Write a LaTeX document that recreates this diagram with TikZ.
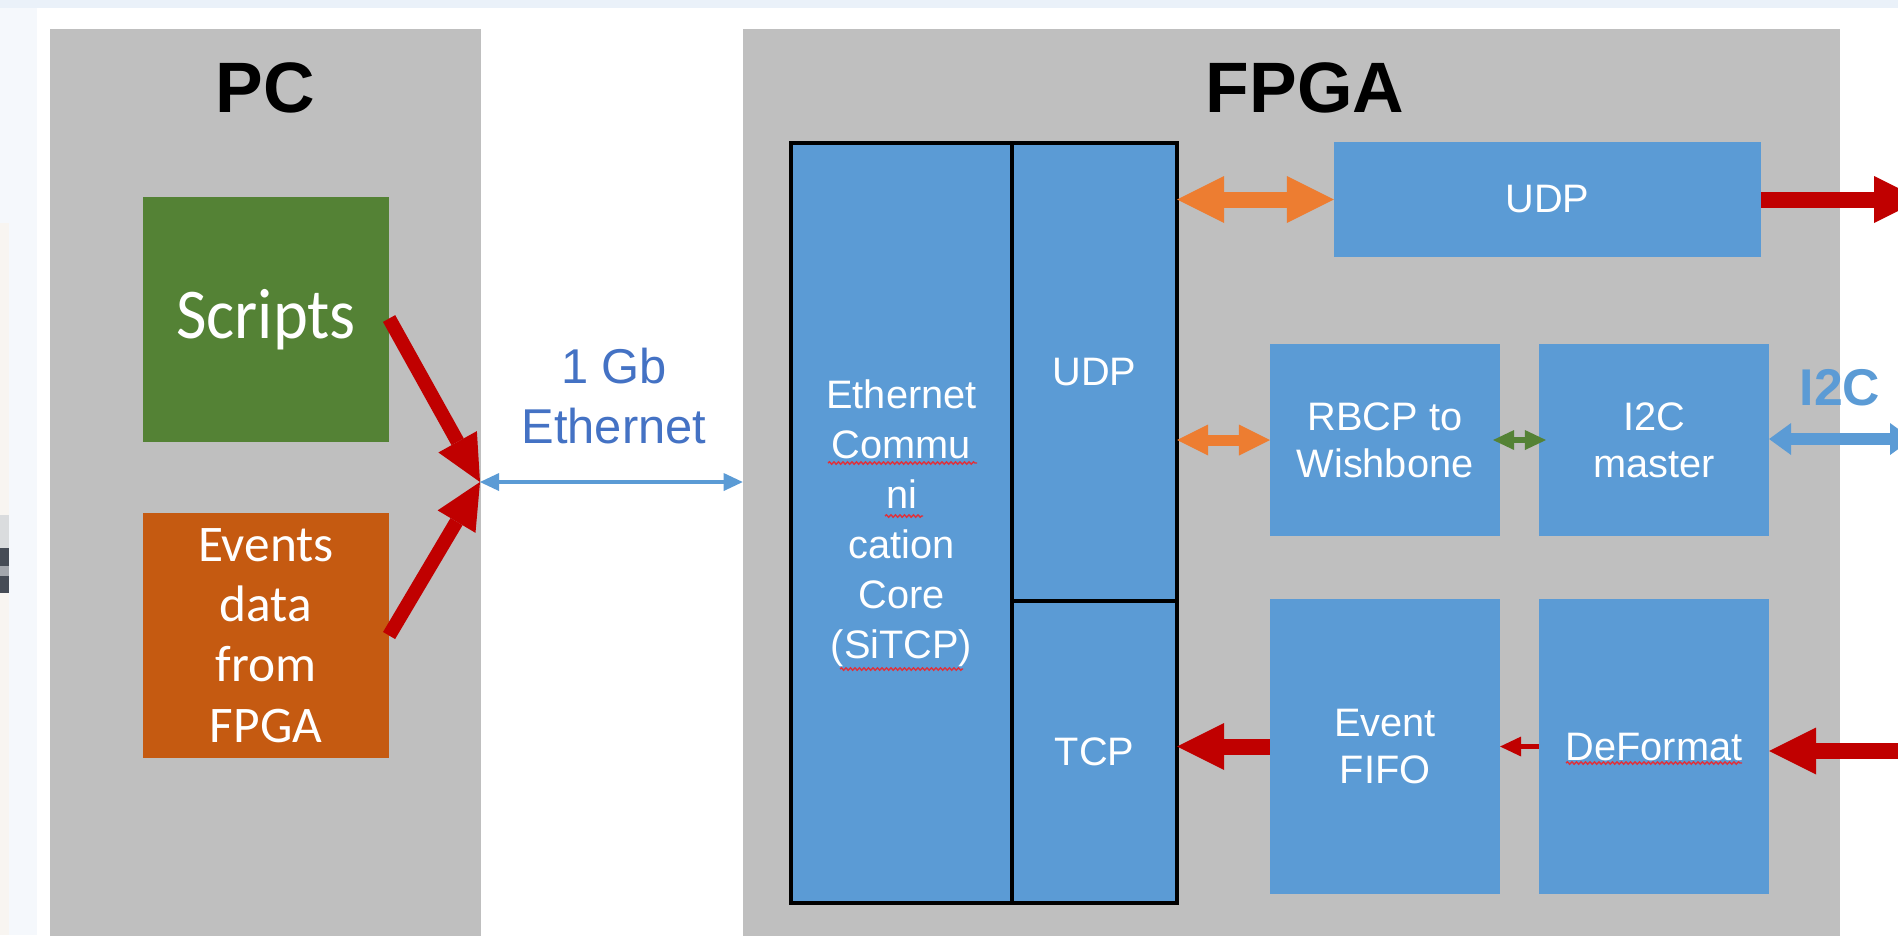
\documentclass[tikz,border=0pt]{standalone}
\usepackage{fontspec}
\setmainfont{Liberation Sans}
\newfontfamily\lightfont{Carlito}
\newfontfamily\narrowlightfont[FakeStretch=0.93]{Carlito}
\usetikzlibrary{arrows.meta,decorations.pathmorphing}

\definecolor{panelgray}{HTML}{BFBFBF}
\definecolor{boxblue}{HTML}{5B9BD5}
\definecolor{scriptgreen}{HTML}{548235}
\definecolor{eventorange}{HTML}{C55A11}
\definecolor{linkorange}{HTML}{ED7D31}
\definecolor{datared}{HTML}{C00000}
\definecolor{labelblue}{HTML}{4472C4}
\definecolor{topband}{HTML}{EAF1F9}
\definecolor{sideband}{HTML}{F5F8FC}
\definecolor{photobeige}{HTML}{F8F5F1}
\definecolor{photodark}{HTML}{464C56}
\definecolor{photomid}{HTML}{A3A7AD}
\definecolor{spellred}{HTML}{E0303A}

\begin{document}
\begin{tikzpicture}[x=0.01cm,y=-0.01cm,
  panel/.style={fill=panelgray,inner sep=0pt,outer sep=0pt},
  paneltitle/.style={font=\bfseries\fontsize{20.3}{24}\selectfont,inner sep=0pt},
  blk/.style={fill=boxblue,text=white,inner sep=0pt,outer sep=0pt,align=center,
    font=\fontsize{11.3}{13.4}\selectfont},
  corebox/.style={blk,draw=black,line width=1pt,font=\fontsize{11.3}{14.2}\selectfont},
  pcbox/.style={inner sep=0pt,outer sep=0pt,text=white,align=center,
    minimum width=2.46cm,minimum height=2.45cm},
  fatred/.style={draw=datared,line width=0.16cm,
    -{Triangle[length=0.47cm,width=0.47cm,line width=0pt]}},
  slantred/.style={draw=datared,line width=0.14cm,
    -{Triangle[length=0.46cm,width=0.44cm,line width=0pt]}},
  thinred/.style={draw=datared,line width=0.05cm,
    -{Triangle[length=0.21cm,width=0.20cm,line width=0pt]}},
  bigorange/.style={draw=linkorange,line width=0.16cm,
    {Triangle[length=0.47cm,width=0.47cm,line width=0pt]}-{Triangle[length=0.47cm,width=0.47cm,line width=0pt]}},
  smallorange/.style={draw=linkorange,line width=0.11cm,
    {Triangle[length=0.31cm,width=0.31cm,line width=0pt]}-{Triangle[length=0.31cm,width=0.31cm,line width=0pt]}},
  greenlink/.style={draw=scriptgreen,line width=0.06cm,
    {Triangle[length=0.21cm,width=0.20cm,line width=0pt]}-{Triangle[length=0.21cm,width=0.20cm,line width=0pt]}},
  i2clink/.style={draw=boxblue,line width=0.12cm,
    {Triangle[length=0.22cm,width=0.32cm,line width=0pt]}-{Triangle[length=0.22cm,width=0.32cm,line width=0pt]}},
  ethlink/.style={draw=boxblue,line width=0.04cm,
    {Triangle[length=0.19cm,width=0.18cm,line width=0pt]}-{Triangle[length=0.19cm,width=0.18cm,line width=0pt]}},
  squiggle/.style={draw=spellred,line width=0.4pt,decorate,
    decoration={snake,segment length=0.045cm,amplitude=0.012cm}}
]
\useasboundingbox (0,0) rectangle (1898,935);
\clip (0,0) rectangle (1898,935);

% page background, window edges
\fill[white] (0,0) rectangle (1898,935);
\fill[topband] (0,0) rectangle (1898,8);
\fill[sideband] (0,8) rectangle (37,935);
\fill[photobeige] (0,223) rectangle (9,935);
\fill[photomid!40] (0,515) rectangle (9,548);
\fill[photodark] (0,548) rectangle (9,566);
\fill[photomid] (0,566) rectangle (9,576);
\fill[photodark] (0,576) rectangle (9,593);

% the two panels
\node[panel,minimum width=4.31cm,minimum height=9.16cm] (pc) at (265.5,487) {};
\node[paneltitle] (pctitle) at (265,88) {PC};
\node[panel,minimum width=10.97cm,minimum height=9.16cm] (fpga) at (1291.5,487) {};
\node[paneltitle] (fpgatitle) at (1305,88) {FPGA};

% PC side
\node[pcbox,fill=scriptgreen,font=\narrowlightfont\fontsize{20.3}{24}\selectfont] (scripts) at (266,319.5) {Scripts};
\node[pcbox,fill=eventorange,font=\lightfont\fontsize{14.6}{17.1}\selectfont] (events) at (266,635.5) {Events\\data\\from\\FPGA};
\coordinate (hub) at (480,482);

% Ethernet link label
\node[text=labelblue,align=center,inner sep=0pt,font=\fontsize{13.9}{17.1}\selectfont] (ethlabel) at (614,396) {1 Gb\\Ethernet};

% SiTCP core
\node[corebox,minimum width=2.21cm,minimum height=7.60cm] (core) at (901.5,523)
  {Ethernet\\Commu\\ni\\cation\\Core\\(SiTCP)};
\node[corebox,minimum width=1.65cm,minimum height=4.58cm] (udpin) at (1094.5,372) {UDP};
\node[corebox,minimum width=1.65cm,minimum height=3.02cm] (tcp) at (1094.5,752) {TCP};

% FPGA blocks
\node[blk,minimum width=4.27cm,minimum height=1.15cm] (udpout) at (1547.5,199.5) {UDP};
\node[blk,minimum width=2.30cm,minimum height=1.92cm] (rbcp) at (1385,440) {RBCP to\\Wishbone};
\node[blk,minimum width=2.30cm,minimum height=1.92cm] (i2cm) at (1654,440) {I2C\\master};
\node[blk,minimum width=2.30cm,minimum height=2.95cm] (fifo) at (1385,746.5) {Event\\FIFO};
\node[blk,minimum width=2.30cm,minimum height=2.95cm] (deformat) at (1654,746.5) {DeFormat};

\node[text=boxblue,inner sep=0pt,font=\bfseries\fontsize{14.7}{17}\selectfont] (i2clabel) at (1840,388) {I2C};

% off-page ends
\coordinate (udpend) at (1921,199.5);
\coordinate (i2cend) at (1912,439);
\coordinate (datain) at (1921,751);

% connectors
\draw[slantred] ([yshift=0.01cm]scripts.east) -- (hub);
\draw[slantred] (events.east) -- (hub);
\draw[ethlink] (hub) -- (hub -| fpga.west);
\draw[bigorange] (udpin.east |- udpout.west) -- (udpout.west);
\draw[smallorange] (udpin.east |- rbcp.west) -- (rbcp.west);
\draw[greenlink] ([xshift=-0.07cm]rbcp.east) -- ([xshift=0.07cm]i2cm.west);
\draw[i2clink] (i2cm.east |- i2cend) -- (i2cend);
\draw[fatred] (udpout.east) -- (udpend);
\draw[fatred] (fifo.west) -- (tcp.east |- fifo.west);
\draw[thinred] (deformat.west) -- (fifo.east);
\draw[fatred] (datain) -- (datain -| deformat.east);

% spell-check marks under words
\draw[squiggle] (828,463) -- (977,463);
\draw[squiggle] (885,516) -- (923,516);
\draw[squiggle] (840,669) -- (963,669);
\draw[squiggle] (1566,763) -- (1742,763);
\end{tikzpicture}
\end{document}
